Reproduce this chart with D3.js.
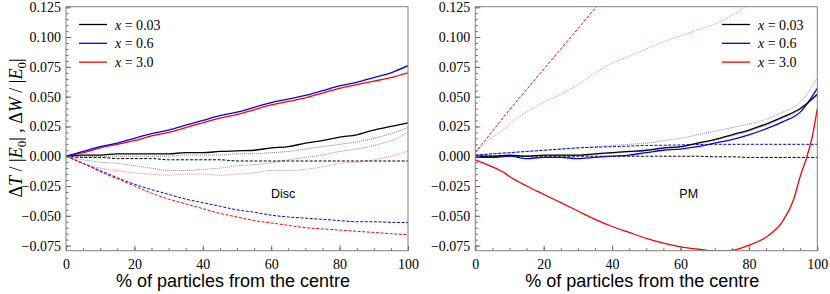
<!DOCTYPE html>
<html>
<head>
<meta charset="utf-8">
<script src="https://cdn.jsdelivr.net/npm/d3@7"></script>
<style>
  body { margin: 0; background: #fff; }
  svg { display: block; }
</style>
</head>
<body>
<svg id="chart" width="830" height="294"></svg>
<script>
// x grid, % of particles from the centre
const PCT = [0, 5, 10, 15, 20, 25, 30, 35, 40, 45, 50, 55, 60, 65, 70, 75, 80, 85, 90, 95, 100];

// Disc panel
const DISC_T_003 = [0, .001, .001, .002, .002, .002, .002, .003, .003, .004, .0045, .005, .007, .008, .011, .013, .016, .018, .022, .025, .028];
const DISC_T_06 = [0, .004, .008, .011, .015, .019, .022, .026, .030, .034, .037, .041, .045, .048, .051, .055, .059, .062, .066, .070, .076];
const DISC_T_30 = [0, .003, .007, .010, .013, .017, .020, .024, .028, .032, .035, .039, .043, .046, .049, .053, .057, .060, .063, .066, .070];
const DISC_W_003 = [0, -.001, -.001, -.002, -.002, -.002, -.003, -.003, -.003, -.003, -.004, -.004, -.004, -.004, -.004, -.004, -.004, -.004, -.004, -.004, -.004];
const DISC_W_06 = [0, -.006, -.012, -.018, -.0235, -.028, -.032, -.036, -.039, -.042, -.045, -.047, -.0495, -.051, -.052, -.053, -.054, -.055, -.055, -.0555, -.0557];
const DISC_W_30 = [0, -.006, -.013, -.019, -.025, -.031, -.036, -.040, -.044, -.048, -.051, -.054, -.056, -.058, -.060, -.061, -.062, -.063, -.064, -.065, -.0658];
const DISC_E_003 = [0, 0, 0, 0, 0, 0, 0, .001, .001, .001, .002, .002, .003, .004, .006, .008, .010, .012, .015, .019, .024];
const DISC_E_06 = [0, -.003, -.005, -.006, -.008, -.010, -.012, -.012, -.011, -.010, -.008, -.007, -.0055, -.003, -.001, .001, .004, .006, .009, .013, .020];
const DISC_E_30 = [0, -.006, -.010, -.012, -.014, -.015, -.016, -.015, -.015, -.016, -.015, -.014, -.012, -.012, -.011, -.009, -.006, -.005, -.003, .000, .0045];

// PM panel
const PM_T_003 = [0, 0, .001, 0, .001, .001, .001, .002, .003, .004, .005, .007, .008, .011, .014, .018, .022, .027, .033, .040, .052];
const PM_T_06 = [-.001, -.001, 0, -.002, -.001, -.001, -.002, -.001, 0, .001, .003, .005, .006, .008, .011, .014, .018, .023, .029, .037, .057];
const PM_W_003 = [0, 0, 0, 0, 0, 0, 0, 0, 0, 0, 0, 0, 0, 0, -.0005, -.0005, -.001, -.001, -.001, -.001, -.001];
const PM_W_06 = [.001, .002, .003, .004, .005, .006, .007, .0075, .008, .0085, .009, .0092, .0095, .0098, .010, .010, .010, .010, .010, .010, .010];
const PM_E_003 = [0, 0, .0005, 0, .0005, .0005, .0005, .0015, .0025, .0035, .0045, .0065, .0075, .0105, .0135, .017, .021, .026, .032, .039, .051];
const PM_E_06 = [.001, .002, .003, .004, .005, .006, .007, .008, .009, .010, .011, .013, .015, .018, .021, .024, .027, .031, .037, .045, .066];
const PM_T_30_X = [0, 5, 8, 10, 15, 20, 25, 30, 35, 40, 45, 50, 55, 60, 65, 70, 75, 80, 85, 90, 93, 95, 97, 98.5, 100];
const PM_T_30 = [-.003, -.009, -.013, -.017, -.025, -.032, -.039, -.046, -.053, -.059, -.064, -.069, -.073, -.076, -.078, -.0795, -.079, -.0747, -.068, -.054, -.037, -.017, 0, .016, .040];
const PM_W_30_X = [0, 5, 10, 15, 20, 25, 30, 35, 40];
const PM_W_30 = [.003, .021, .039, .056, .073, .090, .107, .124, .140];
const PM_E_30_X = [0, 5, 8, 10, 15, 20, 25, 30, 35, 40, 45, 50, 55, 60, 65, 70, 75, 80];
const PM_E_30 = [.003, .016, .022, .027, .037, .045, .052, .060, .070, .078, .084, .090, .096, .101, .106, .111, .118, .128];

const LEGEND_VALUES = ['0.03', '0.6', '3.0'];
const COLORS = ['#000000', '#0000ff', '#ff0000'];
const Y_MAJOR = [-0.075, -0.05, -0.025, 0, 0.025, 0.05, 0.075, 0.1, 0.125];
const X_MAJOR = [0, 20, 40, 60, 80, 100];

const SERIF = '"Liberation Serif", "Times New Roman", serif';
const SANS = '"Liberation Sans", Arial, sans-serif';

const STYLES = {
  solid: { width: 1.3, dash: null, opacity: 1 },
  dashed: { width: 1, dash: '3,1.6', opacity: 1 },
  dotted: { width: 1, dash: '1,1', opacity: 0.5 },
};

function lines(xs, ...rows) {
  return rows.map(([values, color, style, ownX]) => ({
    points: values.map((v, i) => [(ownX || xs)[i], v]),
    color,
    style,
  }));
}

const panels = [
  {
    name: 'Disc',
    left: 66,
    legendX: 79,
    series: lines(PCT,
      [DISC_E_003, COLORS[0], 'dotted'],
      [DISC_E_06, COLORS[1], 'dotted'],
      [DISC_E_30, COLORS[2], 'dotted'],
      [DISC_W_003, COLORS[0], 'dashed'],
      [DISC_W_06, COLORS[1], 'dashed'],
      [DISC_W_30, COLORS[2], 'dashed'],
      [DISC_T_003, COLORS[0], 'solid'],
      [DISC_T_30, COLORS[2], 'solid'],
      [DISC_T_06, COLORS[1], 'solid'],
    ),
  },
  {
    name: 'PM',
    left: 475.3,
    legendX: 722,
    series: lines(PCT,
      [PM_E_30, COLORS[2], 'dotted', PM_E_30_X],
      [PM_E_06, COLORS[1], 'dotted'],
      [PM_E_003, COLORS[0], 'dotted'],
      [PM_W_30, COLORS[2], 'dashed', PM_W_30_X],
      [PM_W_06, COLORS[1], 'dashed'],
      [PM_W_003, COLORS[0], 'dashed'],
      [PM_T_30, COLORS[2], 'solid', PM_T_30_X],
      [PM_T_06, COLORS[1], 'solid'],
      [PM_T_003, COLORS[0], 'solid'],
    ),
  },
];

const plotWidth = 342;
const plotTop = 6.7;
const plotBottom = 250.7;
const svg = d3.select('#chart');

const y = d3.scaleLinear().domain([-0.0793, 0.1255]).range([plotBottom, plotTop]);
const fmt = d3.format('.3f');

panels.forEach((panel, index) => {
  const x = d3.scaleLinear().domain([0, 100]).range([panel.left, panel.left + plotWidth]);
  const g = svg.append('g');
  const clipId = `clip-${index}`;

  g.append('clipPath').attr('id', clipId)
    .append('rect')
    .attr('x', panel.left).attr('y', plotTop)
    .attr('width', plotWidth).attr('height', plotBottom - plotTop);

  const line = d3.line().curve(d3.curveMonotoneX).x((d) => x(d[0])).y((d) => y(d[1]));

  const curves = g.append('g').attr('clip-path', `url(#${clipId})`);
  curves.selectAll('path')
    .data(panel.series)
    .join('path')
    .attr('d', (s) => line(s.points))
    .attr('fill', 'none')
    .attr('stroke', (s) => s.color)
    .attr('stroke-width', (s) => STYLES[s.style].width)
    .attr('stroke-dasharray', (s) => STYLES[s.style].dash)
    .attr('stroke-opacity', (s) => STYLES[s.style].opacity)
    .attr('stroke-linejoin', 'round');

  // axes, ticks pointing inward
  const yAxis = g.append('g').attr('transform', `translate(${panel.left},0)`)
    .call(d3.axisLeft(y).tickValues(Y_MAJOR).tickFormat(fmt).tickSizeInner(-5).tickSizeOuter(0).tickPadding(5));
  const yMinor = g.append('g').attr('transform', `translate(${panel.left},0)`)
    .call(d3.axisLeft(y).tickValues(d3.range(-0.075, 0.1251, 0.005)).tickFormat('').tickSizeInner(-2.5).tickSizeOuter(0));
  const xAxis = g.append('g').attr('transform', `translate(0,${plotBottom})`)
    .call(d3.axisBottom(x).tickValues(X_MAJOR).tickFormat(d3.format('d')).tickSizeInner(-5).tickSizeOuter(0).tickPadding(8));
  const xMinor = g.append('g').attr('transform', `translate(0,${plotBottom})`)
    .call(d3.axisBottom(x).tickValues(d3.range(0, 101, 5)).tickFormat('').tickSizeInner(-2.5).tickSizeOuter(0));

  for (const axis of [yAxis, yMinor, xAxis, xMinor]) {
    axis.attr('font-family', SERIF).attr('font-size', 14);
    axis.select('.domain').remove();
    axis.selectAll('line').attr('stroke', '#666').attr('stroke-width', 1);
    axis.selectAll('text').attr('fill', '#000');
  }

  g.append('rect')
    .attr('x', panel.left).attr('y', plotTop)
    .attr('width', plotWidth).attr('height', plotBottom - plotTop)
    .attr('fill', 'none').attr('stroke', '#808080').attr('stroke-width', 1);

  g.append('text')
    .attr('font-family', SANS).attr('font-size', 18)
    .attr('x', x(50) - 4).attr('y', 287)
    .attr('text-anchor', 'middle')
    .text('% of particles from the centre');

  g.append('text')
    .attr('font-family', SANS).attr('font-size', 12.5)
    .attr('x', index === 0 ? x(63.5) : x(62.4)).attr('y', 197.5)
    .attr('text-anchor', 'middle')
    .text(panel.name);

  const legend = g.append('g').selectAll('g')
    .data(LEGEND_VALUES)
    .join('g')
    .attr('transform', (_d, i) => `translate(${panel.legendX},${24.5 + i * 18.8})`);
  legend.append('line')
    .attr('x1', 0).attr('x2', 28)
    .attr('stroke', (_d, i) => COLORS[i])
    .attr('stroke-width', 1.3);
  const label = legend.append('text')
    .attr('font-family', SERIF).attr('font-size', 14)
    .attr('x', 36).attr('y', 5);
  label.append('tspan').attr('font-style', 'italic').text('x');
  label.append('tspan').text((d) => ` = ${d}`);
});

// y axis title
const yTitle = svg.append('text')
  .attr('transform', 'translate(22,128) rotate(-90)')
  .attr('text-anchor', 'middle')
  .attr('font-family', SERIF)
  .attr('font-size', 18);
const parts = [
  ['Δ', null], ['T', 'italic'], [' / |', null], ['E', 'italic'], ['0', 'sub'], ['| ,  Δ', null],
  ['W', 'italic'], [' / |', null], ['E', 'italic'], ['0', 'sub'], ['|', null],
];
parts.forEach(([txt, kind]) => {
  const t = yTitle.append('tspan').text(txt);
  if (kind === 'italic') t.attr('font-style', 'italic');
  if (kind === 'sub') t.attr('font-size', 13).attr('dy', 4);
  else if (kind === null && txt.startsWith('|')) t.attr('dy', -4);
});
</script>
</body>
</html>
